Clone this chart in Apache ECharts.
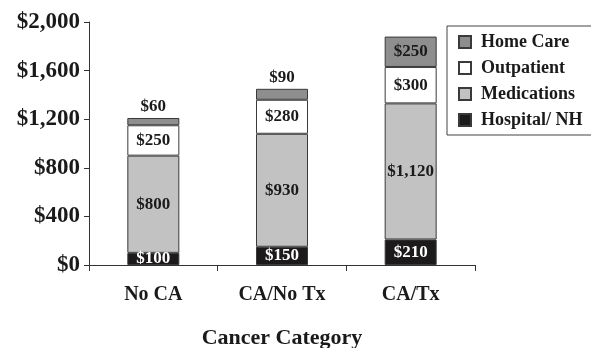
<!DOCTYPE html>
<html><head><meta charset="utf-8">
<script src="https://cdn.jsdelivr.net/npm/echarts@6/dist/echarts.min.js"></script>
<style>html,body{margin:0;padding:0;background:#fff}#c{width:591px;height:348px}</style>
</head><body><div id="c"></div>
<script>
const categories = ['No CA', 'CA/No Tx', 'CA/Tx'];
const hospital = [100, 150, 210];
const medications = [800, 930, 1120];
const outpatient = [250, 280, 300];
const homeCare = [60, 90, 250];
const yTicks = [0, 400, 800, 1200, 1600, 2000];
const legendOrder = ['Home Care', 'Outpatient', 'Medications', 'Hospital/ NH'];

const FONT = '"Liberation Serif", "DejaVu Serif", serif';
const INK = '#1a1a1a';
const money = v => '$' + Number(v).toLocaleString('en-US');
const chart = echarts.init(document.getElementById('c'), null, {renderer: 'canvas'});

function seg(name, data, fill, labelColor, dataMap) {
  return {
    name, type: 'bar', stack: 'total', barWidth: 52,
    data: dataMap ? data.map(dataMap) : data,
    itemStyle: {color: fill, borderColor: '#3a3a3a', borderWidth: 1},
    label: {show: true, position: 'inside', formatter: p => money(p.value),
      fontFamily: FONT, fontWeight: 'bold', fontSize: 17, color: labelColor},
    emphasis: {disabled: true}
  };
}

chart.setOption({
  animation: false,
  grid: {left: 89, right: 116, top: 22, bottom: 83, containLabel: false, outerBoundsMode: 'none'},
  legend: {
    data: legendOrder, orient: 'vertical', left: 447, top: 26,
    padding: [7, 18, 6, 11], itemWidth: 12, itemHeight: 12, itemGap: 8,
    borderColor: '#444', borderWidth: 1, icon: 'rect', selectedMode: false,
    textStyle: {fontFamily: FONT, fontWeight: 'bold', fontSize: 18, lineHeight: 18,
      color: INK, padding: [0, 0, 0, 5]}
  },
  xAxis: {
    type: 'category', data: categories,
    axisLine: {lineStyle: {color: '#333', width: 1}},
    axisTick: {show: true, length: 6, alignWithLabel: false, lineStyle: {color: '#333'}},
    axisLabel: {margin: 20, fontFamily: FONT, fontWeight: 'bold', fontSize: 20, color: INK},
    name: 'Cancer Category', nameLocation: 'middle', nameGap: 62,
    nameTextStyle: {fontFamily: FONT, fontWeight: 'bold', fontSize: 22, color: INK}
  },
  yAxis: {
    type: 'value', min: yTicks[0], max: yTicks[yTicks.length - 1], interval: yTicks[1] - yTicks[0],
    splitLine: {show: false},
    axisLine: {show: true, lineStyle: {color: '#333', width: 1}},
    axisTick: {show: true, length: 5, lineStyle: {color: '#333'}},
    axisLabel: {margin: 9, formatter: money, fontFamily: FONT, fontWeight: 'bold', fontSize: 23, color: INK}
  },
  series: [
    seg('Hospital/ NH', hospital, '#1c1a1b', '#ffffff'),
    seg('Medications', medications, '#c2c2c2', INK),
    seg('Outpatient', outpatient, '#ffffff', INK),
    seg('Home Care', homeCare, '#8e8e8e', INK,
      v => ({value: v, label: {position: v < 150 ? 'top' : 'inside', distance: 3}}))
  ]
});
</script></body></html>
